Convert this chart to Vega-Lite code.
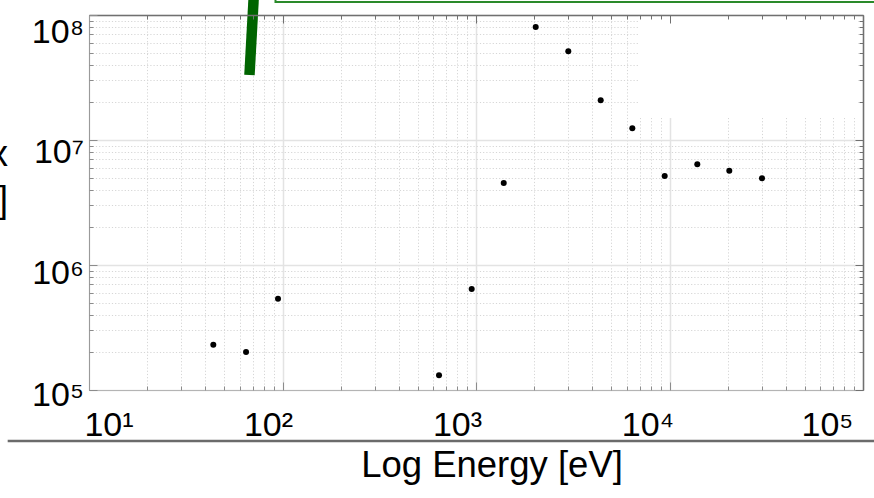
{
  "$schema": "https://vega.github.io/schema/vega-lite/v6.json",
  "width": 774,
  "height": 375,
  "autosize": {"type": "none"},
  "padding": {"left": 89, "top": 15, "right": 11, "bottom": 108},
  "background": "white",
  "config": {
    "view": {"stroke": null},
    "font": "Liberation Sans",
    "axis": {"labelFont": "Liberation Sans", "titleFont": "Liberation Sans"}
  },
  "datasets": {
    "flux": [
      {"energy": 43.9, "flux": 230000},
      {"energy": 64.8, "flux": 201000},
      {"energy": 94.8, "flux": 538000},
      {"energy": 644, "flux": 131000},
      {"energy": 950, "flux": 643000},
      {"energy": 1391, "flux": 4530000},
      {"energy": 2035, "flux": 80200000},
      {"energy": 2999, "flux": 51200000},
      {"energy": 4410, "flux": 20800000},
      {"energy": 6425, "flux": 12400000},
      {"energy": 9445, "flux": 5150000},
      {"energy": 13920, "flux": 6390000},
      {"energy": 20370, "flux": 5680000},
      {"energy": 30060, "flux": 4940000}
    ],
    "legendPanel": [{"e0": 6874, "e1": 94240, "f0": 15000000, "f1": 100000000}],
    "greenStroke": [{"e0": 67.5, "f0": 33100000, "e1": 71.1, "f1": 144500000}],
    "greenBox": [{"e0": 92, "e1": 1000000, "f0": 127000000, "f1": 275000000}],
    "separator": [{"e0": 3.8, "e1": 200000, "f": 39100}]
  },
  "resolve": {"axis": {"x": "independent", "y": "independent"}},
  "layer": [
    {
      "data": {"name": "flux"},
      "mark": {"type": "point", "opacity": 0},
      "encoding": {
        "x": {
          "field": "energy", "type": "quantitative",
          "scale": {"type": "log", "domain": [10, 100000], "nice": false},
          "axis": {
            "orient": "bottom", "values": [10, 100, 1000, 10000, 100000],
            "grid": true, "gridColor": "#e3e3e3", "gridWidth": 1.5,
            "labels": false, "ticks": false, "domain": false, "title": null, "zindex": 0
          }
        },
        "y": {
          "field": "flux", "type": "quantitative",
          "scale": {"type": "log", "domain": [100000, 100000000], "nice": false},
          "axis": {
            "orient": "left", "values": [100000, 1000000, 10000000, 100000000],
            "grid": true, "gridColor": "#e3e3e3", "gridWidth": 1.5,
            "labels": false, "ticks": false, "domain": false, "title": null, "zindex": 0
          }
        }
      }
    },
    {
      "data": {"name": "flux"},
      "mark": {"type": "point", "opacity": 0},
      "encoding": {
        "x": {
          "field": "energy", "type": "quantitative",
          "scale": {"type": "log", "domain": [10, 100000], "nice": false},
          "axis": {
            "orient": "bottom",
            "values": [20, 30, 40, 50, 60, 70, 80, 90, 200, 300, 400, 500, 600, 700, 800, 900, 2000, 3000, 4000, 5000, 6000, 7000, 8000, 9000, 20000, 30000, 40000, 50000, 60000, 70000, 80000, 90000],
            "grid": true, "gridColor": "#d6d6d6", "gridWidth": 1, "gridDash": [1.2, 2],
            "labels": false, "ticks": false, "domain": false, "title": null, "zindex": 0
          }
        },
        "y": {
          "field": "flux", "type": "quantitative",
          "scale": {"type": "log", "domain": [100000, 100000000], "nice": false},
          "axis": {
            "orient": "left",
            "values": [200000, 300000, 400000, 500000, 600000, 700000, 800000, 900000, 2000000, 3000000, 4000000, 5000000, 6000000, 7000000, 8000000, 9000000, 20000000, 30000000, 40000000, 50000000, 60000000, 70000000, 80000000, 90000000],
            "grid": true, "gridColor": "#d6d6d6", "gridWidth": 1, "gridDash": [1.2, 2],
            "labels": false, "ticks": false, "domain": false, "title": null, "zindex": 0
          }
        }
      }
    },
    {
      "data": {"name": "legendPanel"},
      "mark": {"type": "rect", "fill": "white", "stroke": null},
      "encoding": {
        "x": {"field": "e0", "type": "quantitative", "scale": {"type": "log", "domain": [10, 100000], "nice": false}, "axis": null},
        "x2": {"field": "e1"},
        "y": {"field": "f0", "type": "quantitative", "scale": {"type": "log", "domain": [100000, 100000000], "nice": false}, "axis": null},
        "y2": {"field": "f1"}
      }
    },
    {
      "data": {"name": "flux"},
      "mark": {"type": "point", "opacity": 0},
      "encoding": {
        "x": {
          "field": "energy", "type": "quantitative",
          "scale": {"type": "log", "domain": [10, 100000], "nice": false},
          "axis": {
            "orient": "bottom", "values": [10, 100, 1000, 10000, 100000],
            "grid": false, "ticks": false,
            "domain": true, "domainColor": "#b4b4b4", "domainWidth": 1,
            "labels": true,
            "labelExpr": "'10' + ['⁰','¹','²','³','⁴','⁵','⁶','⁷','⁸'][round(log(datum.value) / LN10)]",
            "labelFontSize": 34, "labelColor": "black",
            "labelBaseline": "alphabetic", "labelAlign": "center", "labelPadding": 45,
            "labelFlush": false, "labelOverlap": false, "labelBound": false,
            "labelOffset": {
              "condition": [
                {"test": "datum.value == 10", "value": 19.5},
                {"test": "datum.value == 100", "value": -14.5},
                {"test": "datum.value == 1000", "value": -19},
                {"test": "datum.value == 10000", "value": -22},
                {"test": "datum.value == 100000", "value": -36}
              ],
              "value": 0
            },
            "title": "Log Energy [eV]",
            "titleFontSize": 36.5, "titleFontWeight": "normal", "titleColor": "black",
            "titleAlign": "center", "titleBaseline": "alphabetic",
            "titleX": 402.5, "titleY": 86,
            "zindex": 1
          }
        },
        "y": {
          "field": "flux", "type": "quantitative",
          "scale": {"type": "log", "domain": [100000, 100000000], "nice": false},
          "axis": {
            "orient": "left", "values": [100000, 1000000, 10000000, 100000000],
            "grid": false, "ticks": false,
            "domain": true, "domainColor": "#9a9a9a", "domainWidth": 1,
            "labels": true,
            "labelExpr": "'10' + ['⁰','¹','²','³','⁴','⁵','⁶','⁷','⁸'][round(log(datum.value) / LN10)]",
            "labelFontSize": 34, "labelColor": "black",
            "labelBaseline": "alphabetic", "labelAlign": "right", "labelPadding": 5.5,
            "labelFlush": false, "labelOverlap": false, "labelBound": false,
            "labelOffset": {
              "condition": [
                {"test": "datum.value == 100000", "value": 15},
                {"test": "datum.value == 1000000", "value": 18},
                {"test": "datum.value == 10000000", "value": 22},
                {"test": "datum.value == 100000000", "value": 27}
              ],
              "value": 0
            },
            "title": ["Photon Flux", "[ph/s/eV]"],
            "titleFontSize": 36, "titleFontWeight": "normal", "titleColor": "black",
            "titleAngle": 0, "titleAlign": "right", "titleBaseline": "alphabetic",
            "titleX": -81.5, "titleY": 150, "titleLineHeight": 46,
            "zindex": 1
          }
        }
      }
    },
    {
      "data": {"name": "flux"},
      "mark": {"type": "point", "opacity": 0},
      "encoding": {
        "x": {
          "field": "energy", "type": "quantitative",
          "scale": {"type": "log", "domain": [10, 100000], "nice": false},
          "axis": {
            "orient": "bottom",
            "values": [10, 20, 30, 40, 50, 60, 70, 80, 90, 100, 200, 300, 400, 500, 600, 700, 800, 900, 1000, 2000, 3000, 4000, 5000, 6000, 7000, 8000, 9000, 10000, 20000, 30000, 40000, 50000, 60000, 70000, 80000, 90000, 100000],
            "grid": false, "labels": false, "domain": false, "title": null,
            "ticks": true, "tickColor": "#8c8c8c", "tickWidth": 1,
            "tickSize": {"condition": {"test": "datum.value == 10 || datum.value == 100 || datum.value == 1000 || datum.value == 10000 || datum.value == 100000", "value": -8}, "value": -4},
            "zindex": 1
          }
        },
        "y": {
          "field": "flux", "type": "quantitative",
          "scale": {"type": "log", "domain": [100000, 100000000], "nice": false},
          "axis": {
            "orient": "left",
            "values": [100000, 200000, 300000, 400000, 500000, 600000, 700000, 800000, 900000, 1000000, 2000000, 3000000, 4000000, 5000000, 6000000, 7000000, 8000000, 9000000, 10000000, 20000000, 30000000, 40000000, 50000000, 60000000, 70000000, 80000000, 90000000, 100000000],
            "grid": false, "labels": false, "domain": false, "title": null,
            "ticks": true, "tickColor": "#8c8c8c", "tickWidth": 1,
            "tickSize": {"condition": {"test": "datum.value == 100000 || datum.value == 1000000 || datum.value == 10000000 || datum.value == 100000000", "value": -8}, "value": -4},
            "zindex": 1
          }
        }
      }
    },
    {
      "data": {"name": "flux"},
      "mark": {"type": "point", "opacity": 0},
      "encoding": {
        "x": {
          "field": "energy", "type": "quantitative",
          "scale": {"type": "log", "domain": [10, 100000], "nice": false},
          "axis": {
            "orient": "top",
            "values": [10, 20, 30, 40, 50, 60, 70, 80, 90, 100, 200, 300, 400, 500, 600, 700, 800, 900, 1000, 2000, 3000, 4000, 5000, 6000, 7000, 8000, 9000, 10000, 20000, 30000, 40000, 50000, 60000, 70000, 80000, 90000, 100000],
            "grid": false, "labels": false, "title": null,
            "domain": true, "domainColor": "#707070", "domainWidth": 1.5,
            "ticks": true, "tickColor": "#707070", "tickWidth": 1,
            "tickSize": {"condition": {"test": "datum.value == 10 || datum.value == 100 || datum.value == 1000 || datum.value == 10000 || datum.value == 100000", "value": -8}, "value": -4},
            "zindex": 1
          }
        },
        "y": {
          "field": "flux", "type": "quantitative",
          "scale": {"type": "log", "domain": [100000, 100000000], "nice": false},
          "axis": {
            "orient": "right",
            "values": [100000, 200000, 300000, 400000, 500000, 600000, 700000, 800000, 900000, 1000000, 2000000, 3000000, 4000000, 5000000, 6000000, 7000000, 8000000, 9000000, 10000000, 20000000, 30000000, 40000000, 50000000, 60000000, 70000000, 80000000, 90000000, 100000000],
            "grid": false, "labels": false, "title": null,
            "domain": true, "domainColor": "#707070", "domainWidth": 1.5,
            "ticks": true, "tickColor": "#707070", "tickWidth": 1,
            "tickSize": {"condition": {"test": "datum.value == 100000 || datum.value == 1000000 || datum.value == 10000000 || datum.value == 100000000", "value": -8}, "value": -4},
            "zindex": 1
          }
        }
      }
    },
    {
      "data": {"name": "flux"},
      "mark": {"type": "circle", "size": 36, "color": "black", "opacity": 1},
      "encoding": {
        "x": {"field": "energy", "type": "quantitative", "scale": {"type": "log", "domain": [10, 100000], "nice": false}, "axis": null},
        "y": {"field": "flux", "type": "quantitative", "scale": {"type": "log", "domain": [100000, 100000000], "nice": false}, "axis": null}
      }
    },
    {
      "data": {"name": "greenStroke"},
      "mark": {"type": "rule", "color": "#006400", "strokeWidth": 10.5, "strokeCap": "butt"},
      "encoding": {
        "x": {"field": "e0", "type": "quantitative", "scale": {"type": "log", "domain": [10, 100000], "nice": false}, "axis": null},
        "x2": {"field": "e1"},
        "y": {"field": "f0", "type": "quantitative", "scale": {"type": "log", "domain": [100000, 100000000], "nice": false}, "axis": null},
        "y2": {"field": "f1"}
      }
    },
    {
      "data": {"name": "greenBox"},
      "mark": {"type": "rect", "fill": "white", "stroke": "#2a8a2a", "strokeWidth": 2},
      "encoding": {
        "x": {"field": "e0", "type": "quantitative", "scale": {"type": "log", "domain": [10, 100000], "nice": false}, "axis": null},
        "x2": {"field": "e1"},
        "y": {"field": "f0", "type": "quantitative", "scale": {"type": "log", "domain": [100000, 100000000], "nice": false}, "axis": null},
        "y2": {"field": "f1"}
      }
    },
    {
      "data": {"name": "separator"},
      "mark": {"type": "rule", "color": "#6b6b6b", "strokeWidth": 2.5},
      "encoding": {
        "x": {"field": "e0", "type": "quantitative", "scale": {"type": "log", "domain": [10, 100000], "nice": false}, "axis": null},
        "x2": {"field": "e1"},
        "y": {"field": "f", "type": "quantitative", "scale": {"type": "log", "domain": [100000, 100000000], "nice": false}, "axis": null}
      }
    }
  ]
}
